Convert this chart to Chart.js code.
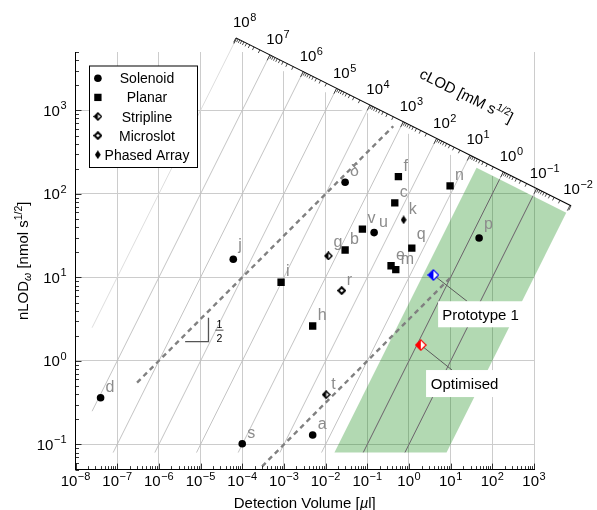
<!DOCTYPE html>
<html><head><meta charset="utf-8">
<script src="https://cdn.jsdelivr.net/npm/chart.js@4.4.1/dist/chart.umd.min.js"></script>
<style>html,body{margin:0;padding:0;background:#fff;}canvas{display:block;}</style>
</head><body>
<canvas id="c" width="597" height="510" style="width:597px;height:510px"></canvas>
<script>
// ---------------- data ----------------
const solenoidLabels = ['δ','u','j','s','a','p','d'];
const solenoidVol = [0.0294, 0.146, 6.1e-5, 1.0e-4, 0.0049, 48.2, 4.0e-8];
const solenoidLOD = [138, 34.4, 16.5, 0.102, 0.130, 29.7, 0.363];

const planarLabels = ['f','n','c','v','b','q','e','m','i','h'];
const planarVol = [0.558, 9.7, 0.457, 0.0764, 0.0294, 1.17, 0.372, 0.483, 8.55e-4, 0.0049];
const planarLOD = [161, 125, 78, 37.8, 21.3, 22.4, 13.8, 12.4, 8.75, 2.62];

const striplineLabels = ['g','t'];
const striplineVol = [0.0117, 0.0103];
const striplineLOD = [18.1, 0.395];

const microslotLabels = ['r'];
const microslotVol = [0.0244];
const microslotLOD = [6.95];

const phasedLabels = ['k'];
const phasedVol = [0.75];
const phasedLOD = [48.9];

const prototypeVol = [3.86];
const prototypeLOD = [10.7];
const optimisedVol = [1.92];
const optimisedLOD = [1.55];

// slope-1/2 guide lines
const guide1Vol = [3.0e-7, 0.42];
const guide1LOD = [0.55, 646];
const guide2Vol = [3.0e-4, 9.8];
const guide2LOD = [0.0547, 9.9];

// slope triangle
const triVol = [4.27e-6, 1.55e-5];
const triLOD = [1.70, 3.30];

// tick exponents
const xTickExp = [-8,-7,-6,-5,-4,-3,-2,-1,0,1,2,3];
const yTickExp = [-1,0,1,2,3];
const cLODExp = [8,7,6,5,4,3,2,1,0,-1,-2];

// green target region (cLOD bounds, lower nLOD bound)
const greenCLOD = [4.9, 0.01];
const greenMinLOD = 0.08;
const isoMinVol = 2.5e-8;
const isoMinLOD = 0.08;

// ---------------- helpers ----------------
const FONT = "'Liberation Sans', Arial, Helvetica, sans-serif";
const L10 = Math.log10;
const AXIS_K = 2.83;   // cLOD axis: logN + logV/4 = AXIS_K
const TOP_K = 2.717;   // clipping / region top line

function makeDiamond(w, h, leftColor, rightColor, stroke, lw) {
  const c = document.createElement('canvas'); c.width = w; c.height = h;
  const g = c.getContext('2d');
  const m = stroke ? lw/2 + 0.2 : 0.2;
  const cx = w/2, cy = h/2;
  const T=[cx,m], R=[w-m,cy], B=[cx,h-m], Lp=[m,cy];
  const path = () => { g.beginPath(); g.moveTo(T[0],T[1]); g.lineTo(R[0],R[1]); g.lineTo(B[0],B[1]); g.lineTo(Lp[0],Lp[1]); g.closePath(); };
  path(); g.fillStyle = rightColor; g.fill();
  g.beginPath(); g.moveTo(T[0],T[1]); g.lineTo(B[0],B[1]); g.lineTo(Lp[0],Lp[1]); g.closePath();
  g.fillStyle = leftColor; g.fill();
  if (stroke) { path(); g.lineWidth = lw; g.strokeStyle = stroke; g.lineJoin='miter'; g.stroke(); }
  return c;
}
const mkStrip = makeDiamond(9, 9, '#000', '#fff', '#000', 1.5);
const mkMicro = makeDiamond(9, 9, '#fff', '#fff', '#000', 2.0);
const mkPhased = makeDiamond(6, 9, '#000', '#000', null, 0);
const mkProto = makeDiamond(12, 12, '#0000ff', '#fff', '#0000ff', 1.2);
const mkOpt = makeDiamond(12, 12, '#ff0000', '#fff', '#ff0000', 1.2);

const pts = (vs, ns) => vs.map((v, i) => ({x: v, y: ns[i]}));

function expStr(e) { return e < 0 ? '\u2212' + (-e) : String(e); }
function drawPow(ctx, e, ax, baseY, align, fb, fe, raise) {
  ctx.font = fb; const w1 = ctx.measureText('10').width;
  const s = expStr(e);
  ctx.font = fe; const w2 = ctx.measureText(s).width;
  const w = w1 + w2 + 0.5;
  const x0 = align === 'center' ? ax - w/2 : (align === 'right' ? ax - w : ax);
  ctx.textAlign = 'left'; ctx.textBaseline = 'alphabetic';
  ctx.font = fb; ctx.fillText('10', x0, baseY);
  ctx.font = fe; ctx.fillText(s, x0 + w1 + 0.5, baseY - raise);
}
function drawSegs(ctx, segs, cx, baseY) {
  let w = 0;
  segs.forEach(s => { ctx.font = s.f; s.w = ctx.measureText(s.t).width; w += s.w; });
  let xx = cx - w/2;
  ctx.textAlign = 'left'; ctx.textBaseline = 'alphabetic';
  segs.forEach(s => { ctx.font = s.f; ctx.fillText(s.t, xx, baseY + (s.dy || 0)); xx += s.w; });
}

function geom(chart) {
  const x = chart.scales.x, y = chart.scales.y;
  const P = (lv, ln) => [x.getPixelForValue(Math.pow(10, lv)), y.getPixelForValue(Math.pow(10, ln))];
  const onLine = (L, k) => { const lv = (k - L) / 1.25; return [lv, lv + L]; };
  return {x, y, P, onLine};
}

// ---------------- plugin ----------------
const overlay = {
  id: 'overlay',
  beforeDatasetsDraw(chart) {
    const {ctx, chartArea: a} = chart;
    const {P, onLine} = geom(chart);
    // white mask above the region line
    ctx.save();
    ctx.beginPath(); ctx.rect(a.left, a.top, a.right - a.left, a.bottom - a.top); ctx.clip();
    const m1 = P(-9, TOP_K + 9/4), m2 = P(5, TOP_K - 5/4);
    ctx.beginPath(); ctx.moveTo(m1[0], m1[1]); ctx.lineTo(m2[0], m2[1]);
    ctx.lineTo(m2[0] + 1000, m2[1]); ctx.lineTo(m2[0] + 1000, -1000); ctx.lineTo(m1[0], -1000); ctx.closePath();
    ctx.fillStyle = '#fff'; ctx.fill();
    ctx.restore();

    // green region
    const lc0 = L10(greenCLOD[0]), lc1 = L10(greenCLOD[1]), lnMin = L10(greenMinLOD);
    const t0 = onLine(lc0, TOP_K), t1 = onLine(lc1, TOP_K);
    const G = [P(lnMin - lc0, lnMin), P(lnMin - lc1, lnMin), P(t1[0], t1[1]), P(t0[0], t0[1])];
    const gPath = () => { ctx.beginPath(); ctx.moveTo(G[0][0], G[0][1]); for (let i = 1; i < 4; i++) ctx.lineTo(G[i][0], G[i][1]); ctx.closePath(); };
    ctx.save(); gPath(); ctx.fillStyle = 'rgba(0,128,0,0.3)'; ctx.fill(); ctx.restore();

    // iso-cLOD lines
    const isoSeg = (L) => {
      const up = onLine(L, AXIS_K);
      const lv0 = Math.max(L10(isoMinVol), L10(isoMinLOD) - L);
      return [P(lv0, lv0 + L), P(up[0], up[1])];
    };
    cLODExp.forEach(L => {
      if (L === -2) return;
      const [p0, p1] = isoSeg(L);
      ctx.save();
      ctx.strokeStyle = L === 8 ? '#d6d6d6' : '#bdbdbd'; ctx.lineWidth = L === 8 ? 0.8 : 0.9;
      ctx.beginPath(); ctx.moveTo(p0[0], p0[1]); ctx.lineTo(p1[0], p1[1]); ctx.stroke();
      ctx.restore();
      ctx.save(); gPath(); ctx.clip();
      ctx.strokeStyle = '#5f5f5f'; ctx.lineWidth = 0.9;
      ctx.beginPath(); ctx.moveTo(p0[0], p0[1]); ctx.lineTo(p1[0], p1[1]); ctx.stroke();
      ctx.restore();
    });

    // annotations (connectors + boxes)
    const ann = [
      {ds: 5, text: 'Prototype 1', bx: 4.7, by: 26.3, bw: 85, bh: 26, cx: 33.7},
      {ds: 6, text: 'Optimised', bx: 5.3, by: 25, bw: 77, bh: 27, cx: 31.3}
    ];
    ann.forEach(o => {
      const el = chart.getDatasetMeta(o.ds).data[0];
      ctx.save();
      ctx.strokeStyle = '#5a5a5a'; ctx.lineWidth = 1;
      ctx.beginPath(); ctx.moveTo(el.x, el.y); ctx.lineTo(el.x + o.cx, el.y + o.by); ctx.stroke();
      ctx.fillStyle = '#fff'; ctx.fillRect(el.x + o.bx, el.y + o.by, o.bw, o.bh);
      ctx.fillStyle = '#000'; ctx.font = '15px ' + FONT; ctx.textAlign = 'center'; ctx.textBaseline = 'alphabetic';
      ctx.fillText(o.text, el.x + o.bx + o.bw/2, el.y + o.by + o.bh/2 + 5.5);
      ctx.restore();
    });

    // slope triangle
    const q0 = P(L10(triVol[0]), L10(triLOD[0])), q1 = P(L10(triVol[1]), L10(triLOD[0])), q2 = P(L10(triVol[1]), L10(triLOD[1]));
    ctx.save();
    ctx.strokeStyle = '#555'; ctx.lineWidth = 1.3;
    ctx.beginPath(); ctx.moveTo(q0[0], q0[1]); ctx.lineTo(q1[0], q1[1]); ctx.lineTo(q2[0], q2[1]); ctx.stroke();
    const fx = q1[0] + 11, fy = (q1[1] + q2[1]) / 2;
    ctx.fillStyle = '#000'; ctx.font = '10.5px ' + FONT; ctx.textAlign = 'center'; ctx.textBaseline = 'alphabetic';
    ctx.fillText('1', fx, fy - 1.5);
    ctx.fillText('2', fx, fy + 12);
    ctx.strokeStyle = '#000'; ctx.lineWidth = 0.7;
    ctx.beginPath(); ctx.moveTo(fx - 4, fy + 0.5); ctx.lineTo(fx + 4, fy + 0.5); ctx.stroke();
    ctx.restore();
  },
  afterDatasetsDraw(chart) {
    const ctx = chart.ctx;
    ctx.save();
    ctx.font = '16px ' + FONT; ctx.fillStyle = '#8c8c8c'; ctx.textAlign = 'left'; ctx.textBaseline = 'alphabetic';
    chart.data.datasets.forEach((ds, i) => {
      if (!ds.pointLabels) return;
      chart.getDatasetMeta(i).data.forEach((el, j) => {
        const t = ds.pointLabels[j];
        const m = ctx.measureText(t);
        const desc = Math.max(0, m.actualBoundingBoxDescent || 0);
        ctx.fillText(t, el.x + 5, el.y - 6 - desc);
      });
    });
    ctx.restore();
  },
  afterDraw(chart) {
    const {ctx, chartArea: a} = chart;
    const {x, y, P, onLine} = geom(chart);
    const fb = '15px ' + FONT, fe = '11px ' + FONT;
    ctx.save();
    ctx.strokeStyle = '#000'; ctx.lineWidth = 0.8; ctx.fillStyle = '#000';
    // x ticks (inward)
    for (let d = -8; d <= 3; d++) {
      for (let k = 1; k <= 9; k++) {
        const v = k * Math.pow(10, d);
        if (v > 1e3 * 1.0001) break;
        const px = Math.round(x.getPixelForValue(v)) + 0.5;
        const len = k === 1 ? 6 : 3.5;
        ctx.beginPath(); ctx.moveTo(px, a.bottom); ctx.lineTo(px, a.bottom - len); ctx.stroke();
      }
    }
    // y ticks (inward)
    for (let d = -2; d <= 3; d++) {
      for (let k = 1; k <= 9; k++) {
        const v = k * Math.pow(10, d);
        if (v < 0.05 * 0.9999 || v > 5000 * 1.0001) continue;
        const py = Math.round(y.getPixelForValue(v)) + 0.5;
        const len = k === 1 ? 6 : 3.5;
        ctx.beginPath(); ctx.moveTo(a.left, py); ctx.lineTo(a.left + len, py); ctx.stroke();
      }
    }
    // tick labels
    xTickExp.forEach(e => drawPow(ctx, e, x.getPixelForValue(Math.pow(10, e)), 486, 'center', fb, fe, 6));
    yTickExp.forEach(e => drawPow(ctx, e, 66.5, y.getPixelForValue(Math.pow(10, e)) + 5.5, 'right', fb, fe, 6.5));

    // cLOD axis
    const s0 = onLine(8.02, AXIS_K), s1 = onLine(-2.03, AXIS_K);
    const A0 = P(s0[0], s0[1]), A1 = P(s1[0], s1[1]);
    const dx = A1[0] - A0[0], dy = A1[1] - A0[1], dl = Math.hypot(dx, dy);
    const ux = dx / dl, uy = dy / dl;
    const nx = uy, ny = -ux;  // outward normal (up-right)
    ctx.lineWidth = 1.1;
    ctx.beginPath(); ctx.moveTo(A0[0], A0[1]); ctx.lineTo(A1[0], A1[1]); ctx.stroke();
    ctx.lineWidth = 0.7;
    for (let i = 0; i < cLODExp.length; i++) {
      const L = cLODExp[i];
      const ticks = [[L, 6]];
      if (L > -2) for (let k = 2; k <= 9; k++) ticks.push([L - 1 + L10(k), 3.5]);
      ticks.forEach(([lv, len]) => {
        const q = onLine(lv, AXIS_K); const p = P(q[0], q[1]);
        ctx.beginPath(); ctx.moveTo(p[0], p[1]); ctx.lineTo(p[0] - nx * len, p[1] - ny * len); ctx.stroke();
      });
    }
    [A0, A1].forEach(p => { ctx.beginPath(); ctx.moveTo(p[0], p[1]); ctx.lineTo(p[0] - nx * 5, p[1] - ny * 5); ctx.stroke(); });
    // cLOD labels
    cLODExp.forEach(L => {
      const q = onLine(L, AXIS_K); const p = P(q[0], q[1]);
      const ax = p[0] + nx * 18, ay = p[1] + ny * 18;
      drawPow(ctx, L, ax, ay + 5.3, 'center', fb, fe, 6);
    });
    // cLOD title
    {
      const q = onLine(1.8, AXIS_K); const p = P(q[0], q[1]);
      const cx = p[0] + nx * 52, cy = p[1] + ny * 52;
      ctx.save(); ctx.translate(cx, cy); ctx.rotate(Math.atan2(uy, ux));
      drawSegs(ctx, [
        {t: 'cLOD [mM s', f: '15px ' + FONT},
        {t: '1/2', f: '10.5px ' + FONT, dy: -6},
        {t: ']', f: '15px ' + FONT}
      ], 0, 5.5);
      ctx.restore();
    }
    // axis titles
    drawSegs(ctx, [
      {t: 'Detection Volume [', f: '15px ' + FONT},
      {t: 'µ', f: 'italic 15px ' + FONT},
      {t: 'l]', f: '15px ' + FONT}
    ], (a.left + a.right) / 2, 508);
    ctx.save(); ctx.translate(22, (a.top + a.bottom) / 2); ctx.rotate(-Math.PI / 2);
    drawSegs(ctx, [
      {t: 'nLOD', f: '15px ' + FONT},
      {t: 'ω', f: 'italic 10.5px ' + FONT, dy: 3},
      {t: ' [nmol s', f: '15px ' + FONT},
      {t: '1/2', f: '10.5px ' + FONT, dy: -6},
      {t: ']', f: '15px ' + FONT}
    ], 0, 5.5);
    ctx.restore();

    // legend
    const lx = a.left + 14, ly = a.top + 14, lw = 108, lh = 101.5;
    ctx.fillStyle = '#fff'; ctx.fillRect(lx, ly, lw, lh);
    ctx.strokeStyle = '#000'; ctx.lineWidth = 1; ctx.strokeRect(lx, ly, lw, lh);
    const rows = ['Solenoid', 'Planar', 'Stripline', 'Microslot', 'Phased Array'];
    rows.forEach((t, i) => {
      const ry = ly + 12.3 + i * 19.1, mx = lx + 8.4;
      ctx.fillStyle = '#000';
      if (i === 0) { ctx.beginPath(); ctx.arc(mx, ry, 3.8, 0, Math.PI * 2); ctx.fill(); }
      else if (i === 1) { ctx.fillRect(mx - 3.65, ry - 3.65, 7.3, 7.3); }
      else { const im = [mkStrip, mkMicro, mkPhased][i - 2]; ctx.drawImage(im, mx - im.width / 2, ry - im.height / 2); }
      ctx.font = '14px ' + FONT; ctx.textAlign = 'center'; ctx.textBaseline = 'alphabetic';
      ctx.fillText(t, lx + 57.5, ry + 5);
    });
    ctx.restore();
  }
};

// ---------------- chart ----------------
const decadeTicks = (exps) => (s) => { s.ticks = exps.map(e => ({value: Math.pow(10, e)})); };

new Chart(document.getElementById('c'), {
  type: 'scatter',
  data: {
    datasets: [
      {label: 'Solenoid', data: pts(solenoidVol, solenoidLOD), pointLabels: solenoidLabels, pointStyle: 'circle', pointRadius: 3.8, backgroundColor: '#000', borderColor: '#000', borderWidth: 0},
      {label: 'Planar', data: pts(planarVol, planarLOD), pointLabels: planarLabels, pointStyle: 'rect', pointRadius: 5.2, backgroundColor: '#000', borderColor: '#000', borderWidth: 0},
      {label: 'Stripline', data: pts(striplineVol, striplineLOD), pointLabels: striplineLabels, pointStyle: mkStrip, pointRadius: 5},
      {label: 'Microslot', data: pts(microslotVol, microslotLOD), pointLabels: microslotLabels, pointStyle: mkMicro, pointRadius: 5},
      {label: 'Phased Array', data: pts(phasedVol, phasedLOD), pointLabels: phasedLabels, pointStyle: mkPhased, pointRadius: 5},
      {label: 'Prototype 1', data: pts(prototypeVol, prototypeLOD), pointStyle: mkProto, pointRadius: 6},
      {label: 'Optimised', data: pts(optimisedVol, optimisedLOD), pointStyle: mkOpt, pointRadius: 6},
      {label: 'guide1', data: pts(guide1Vol, guide1LOD), showLine: true, pointRadius: 0, borderColor: '#808080', borderWidth: 2.4, borderDash: [5, 4], fill: false},
      {label: 'guide2', data: pts(guide2Vol, guide2LOD), showLine: true, pointRadius: 0, borderColor: '#808080', borderWidth: 2.4, borderDash: [5, 4], fill: false}
    ]
  },
  options: {
    responsive: false,
    maintainAspectRatio: false,
    animation: false,
    events: [],
    layout: {padding: {top: 52, right: 63, left: 0, bottom: 0}},
    plugins: {legend: {display: false}, tooltip: {enabled: false}},
    scales: {
      x: {
        type: 'logarithmic', position: 'bottom', min: 1e-8, max: 1e3,
        afterBuildTicks: decadeTicks(xTickExp),
        afterFit: (s) => { s.height = 40.4; },
        ticks: {display: false},
        grid: {color: '#cccccc', lineWidth: 1, drawTicks: false},
        border: {display: true, color: '#000', width: 1}
      },
      y: {
        type: 'logarithmic', position: 'left', min: 0.05, max: 5000,
        afterBuildTicks: decadeTicks(yTickExp),
        afterFit: (s) => { s.width = 75.5; },
        ticks: {display: false},
        grid: {color: '#cccccc', lineWidth: 1, drawTicks: false},
        border: {display: true, color: '#000', width: 1}
      }
    }
  },
  plugins: [overlay]
});
</script>
</body></html>
